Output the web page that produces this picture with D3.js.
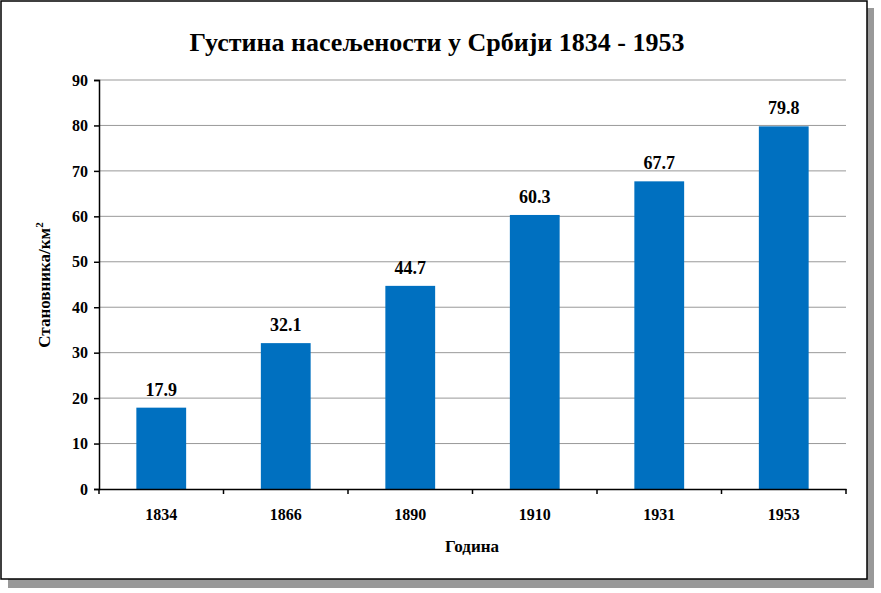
<!DOCTYPE html>
<meta charset="utf-8" />
<title>Густина насељености</title>
<script src="https://cdn.jsdelivr.net/npm/d3@7"></script>
<style>
body { margin: 0; background: #fff; }
text { font-family: "Liberation Serif", "Times New Roman", serif; font-weight: bold; fill: #000; }
.grid line { stroke: #999; stroke-width: 1; }
</style>
<svg id="chart" width="881" height="593"></svg>
<script>
var years = ["1834", "1866", "1890", "1910", "1931", "1953"];
var density = [17.9, 32.1, 44.7, 60.3, 67.7, 79.8];
var yTicks = [0, 10, 20, 30, 40, 50, 60, 70, 80, 90];

var svg = d3.select("#chart");
// shadow + frame
svg.append("rect").attr("x", 8).attr("y", 8).attr("width", 866).attr("height", 580).attr("fill", "#555").attr("opacity", 0.6);
svg.append("rect").attr("x", 1).attr("y", 1).attr("width", 866).attr("height", 578).attr("fill", "#fff").attr("stroke", "#000").attr("stroke-width", 1.5);

var plotLeft = 99, plotRight = 846, plotTop = 80, plotBottom = 489;
var x = d3.scaleBand().domain(years).range([plotLeft, plotRight]).paddingInner(0.6).paddingOuter(0.3);
var y = d3.scaleLinear().domain([0, 90]).range([plotBottom, plotTop]);

svg.append("g").attr("class", "grid").selectAll("line").data(yTicks.slice(1)).enter().append("line")
  .attr("x1", plotLeft).attr("x2", plotRight).attr("y1", function(d) { return y(d); }).attr("y2", function(d) { return y(d); });

svg.selectAll("rect.bar").data(density).enter().append("rect").attr("class", "bar")
  .attr("x", function(d, i) { return x(years[i]); })
  .attr("width", x.bandwidth())
  .attr("y", function(d) { return y(d); })
  .attr("height", function(d) { return plotBottom - y(d); })
  .attr("fill", "#0070C0");

svg.selectAll("text.val").data(density).enter().append("text").attr("class", "val")
  .attr("x", function(d, i) { return x(years[i]) + x.bandwidth() / 2; })
  .attr("y", function(d) { return y(d) - 12; })
  .attr("text-anchor", "middle").style("font-size", "18px")
  .text(function(d) { return d.toFixed(1); });

var yAxis = svg.append("g").attr("transform", "translate(" + plotLeft + ",0)")
  .call(d3.axisLeft(y).tickValues(yTicks).tickSize(5).tickPadding(6));
yAxis.selectAll("text").style("font-size", "16px");
yAxis.selectAll("line").attr("stroke-width", 1.5);
yAxis.select(".domain").attr("stroke", "#000").attr("stroke-width", 1.5);

var step = (plotRight - plotLeft) / years.length;
var xAxis = svg.append("g").attr("transform", "translate(0," + plotBottom + ")")
  .call(d3.axisBottom(x).tickSize(0).tickPadding(20));
xAxis.selectAll("text").style("font-size", "16px");
xAxis.select(".domain").attr("stroke", "#000").attr("stroke-width", 1.5);
xAxis.selectAll("line.sep").data(d3.range(years.length + 1)).enter().append("line")
  .attr("x1", function(i) { return plotLeft + i * step; }).attr("x2", function(i) { return plotLeft + i * step; })
  .attr("y1", 0).attr("y2", 5).attr("stroke", "#000").attr("stroke-width", 1.5);

svg.append("text").attr("x", 437).attr("y", 51).attr("text-anchor", "middle").style("font-size", "26px")
  .text("Густина насељености у Србији 1834 - 1953");
svg.append("text").attr("x", 472).attr("y", 552).attr("text-anchor", "middle").style("font-size", "17px").text("Година");
svg.append("text").attr("transform", "translate(50,285) rotate(-90)").attr("text-anchor", "middle").style("font-size", "17px")
  .text("Становника/км").append("tspan").attr("dy", -7).style("font-size", "11px").text("2");
</script>
